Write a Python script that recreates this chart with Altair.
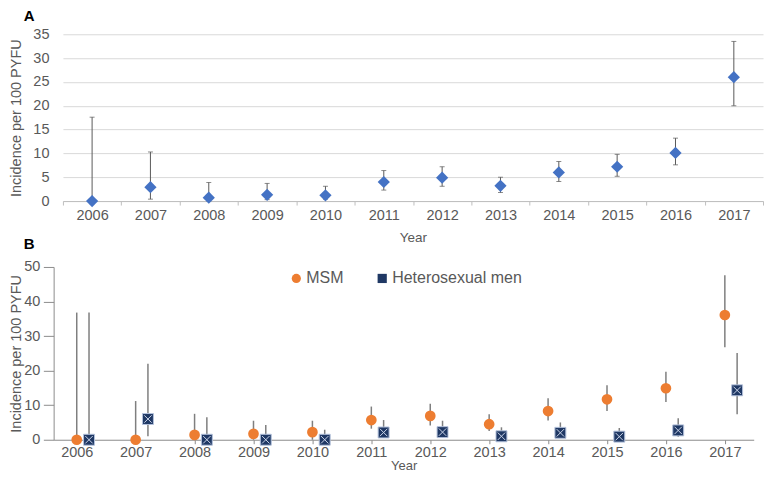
import altair as alt
import pandas as pd

years = list(range(2006, 2018))

# Panel A: all men, incidence per 100 PYFU with 95% CI
a_rate = [0.0, 2.9, 0.7, 1.3, 1.2, 4.0, 4.9, 3.2, 6.0, 7.2, 10.1, 26.0]
a_lo = [0.0, 0.4, 0.0, 0.3, 0.4, 2.3, 3.1, 1.8, 4.1, 5.2, 7.6, 20.0]
a_hi = [17.6, 10.3, 3.9, 3.7, 3.1, 6.4, 7.2, 5.0, 8.3, 9.8, 13.2, 33.5]

# Panel B: MSM vs heterosexual men
groups = ["MSM", "Heterosexual men"]
msm_rate = [0.0, 0.0, 1.4, 1.7, 2.2, 5.7, 6.9, 4.5, 8.3, 11.7, 14.9, 36.1]
msm_lo = [0.0, 0.0, 0.0, 0.0, 0.0, 3.2, 4.1, 2.5, 5.6, 8.3, 10.9, 26.8]
msm_hi = [36.8, 11.2, 7.5, 5.5, 5.5, 9.6, 10.4, 7.4, 12.0, 15.8, 19.7, 47.6]
het_rate = [0.0, 6.0, 0.0, 0.0, 0.0, 2.1, 2.2, 1.0, 2.0, 0.9, 2.7, 14.3]
het_lo = [0.0, 1.0, 0.0, 0.0, 0.0, 0.5, 0.5, 0.0, 0.5, 0.0, 0.9, 7.4]
het_hi = [36.8, 22.0, 6.5, 4.3, 2.9, 5.7, 5.5, 3.6, 5.0, 3.4, 6.2, 25.1]

TXT = "#595959"
FONT = "Liberation Sans"
YTITLE = "Incidence per 100 PYFU"

# ---------------- Panel A ----------------
dfa = pd.DataFrame({"year": [str(y) for y in years], "rate": a_rate, "lo": a_lo, "hi": a_hi})

xa = alt.X(
    "year:O",
    title="Year",
    scale=alt.Scale(paddingInner=0, paddingOuter=0),
    axis=alt.Axis(
        labelAngle=0, tickBand="extent", tickSize=4, labelPadding=3, titlePadding=9,
        domainColor="#BFBFBF", tickColor="#BFBFBF", grid=False,
        labelFontSize=14.5, titleFontSize=13.5, labelColor=TXT, titleColor=TXT,
        titleFontWeight="normal",
    ),
)
ya_scale = alt.Scale(domain=[0, 35], nice=False)
ya_axis = alt.Axis(
    values=[0, 5, 10, 15, 20, 25, 30, 35], domain=False, ticks=False, grid=True,
    gridColor="#D9D9D9", labelPadding=14, titlePadding=9.1,
    labelFontSize=14.5, titleFontSize=14.5, labelColor=TXT, titleColor=TXT,
    titleFontWeight="normal",
)


def ya(field):
    return alt.Y(field, title=YTITLE, scale=ya_scale, axis=ya_axis)


base_a = alt.Chart(dfa)
rule_a = base_a.mark_rule(color="#595959", strokeWidth=1).encode(x=xa, y=ya("lo:Q"), y2="hi:Q")
cap_hi = base_a.mark_tick(color="#595959", size=5, thickness=1).encode(x=xa, y=ya("hi:Q"))
cap_lo = base_a.mark_tick(color="#595959", size=5, thickness=1).encode(x=xa, y=ya("lo:Q"))
pts_a = base_a.mark_point(shape="diamond", filled=True, size=150, color="#4472C4", opacity=1).encode(
    x=xa, y=ya("rate:Q")
)

chart_a = alt.layer(rule_a, cap_hi, cap_lo, pts_a).properties(
    width=701,
    height=167,
    title=alt.TitleParams(
        "A", anchor="start", frame="bounds", dx=15, offset=2.75,
        fontSize=15, fontWeight="bold", font=FONT, color="black",
    ),
)

# ---------------- Panel B ----------------
dfb = pd.DataFrame({
    "year": years * 2,
    "group": [groups[0]] * 12 + [groups[1]] * 12,
    "rate": msm_rate + het_rate,
    "lo": msm_lo + het_lo,
    "hi": msm_hi + het_hi,
})

xb = alt.X(
    "year:Q",
    title="Year",
    scale=alt.Scale(domain=[2005.608, 2017.49], range=[-9.3, 691.7], nice=False, zero=False),
    axis=alt.Axis(
        values=years, format="d", grid=False, tickSize=4, labelPadding=2, titlePadding=0,
        domainColor="#8C8C8C", tickColor="#8C8C8C", labelFlush=False,
        labelFontSize=14.5, titleFontSize=13, labelColor=TXT, titleColor=TXT,
        titleFontWeight="normal",
    ),
)
yb_scale = alt.Scale(domain=[0, 50], nice=False)
yb_axis = alt.Axis(
    values=[0, 10, 20, 30, 40, 50], grid=False, tickSize=10.3, labelPadding=3.5,
    offset=9.3, titlePadding=0, domainColor="#8C8C8C", tickColor="#8C8C8C",
    labelFontSize=14.5, titleFontSize=14.5, labelColor=TXT, titleColor=TXT,
    titleFontWeight="normal",
)


def yb(field):
    return alt.Y(field, title=YTITLE, scale=yb_scale, axis=yb_axis)


cscale = alt.Scale(domain=groups, range=["#ED7D31", "#1F3864"])
sscale = alt.Scale(domain=groups, range=["circle", "square"])
leg = alt.Legend(
    title=None, orient="none", legendX=225.7, legendY=3.5, direction="horizontal",
    labelFontSize=16, labelColor=TXT, labelFont=FONT, symbolSize=85, labelOffset=2,
    columnPadding=30, symbolStrokeWidth=0,
)

base_b = alt.Chart(dfb)
msm = base_b.transform_filter(alt.datum.group == groups[0])
het = base_b.transform_filter(alt.datum.group == groups[1])
HET_OFF = 12.3

rule_msm = msm.mark_rule(color="#7F7F7F", strokeWidth=1.5).encode(
    x=xb, y=yb("lo:Q"), y2="hi:Q"
)
rule_het = het.mark_rule(color="#7F7F7F", strokeWidth=1.5).encode(
    x=xb, y=yb("lo:Q"), y2="hi:Q", xOffset=alt.value(HET_OFF),
)
pts_msm = msm.mark_point(filled=True, opacity=1, size=115).encode(
    x=xb, y=yb("rate:Q"),
    color=alt.Color("group:N", scale=cscale, legend=leg),
    shape=alt.Shape("group:N", scale=sscale, legend=leg),
)
pts_het = het.mark_point(filled=True, opacity=1, size=120, stroke="#B4C2DC", strokeWidth=1).encode(
    x=xb, y=yb("rate:Q"),
    color=alt.Color("group:N", scale=cscale, legend=leg),
    shape=alt.Shape("group:N", scale=sscale, legend=leg),
    xOffset=alt.value(HET_OFF),
)
cross_het = het.mark_point(
    shape="M-1,-1L1,1M-1,1L1,-1", filled=False, size=55, color="#C9D3E8",
    strokeWidth=1, opacity=1,
).encode(
    x=xb, y=yb("rate:Q"), xOffset=alt.value(HET_OFF),
)

chart_b = alt.layer(rule_msm, rule_het, pts_msm, pts_het, cross_het).properties(
    width=701,
    height=173,
    title=alt.TitleParams(
        "B", anchor="start", frame="bounds", dx=15, offset=7.25,
        fontSize=15, fontWeight="bold", font=FONT, color="black",
    ),
)

chart = (
    alt.concat(chart_a, chart_b, columns=1, spacing=-8)
    .resolve_scale(color="independent", shape="independent")
    .resolve_legend(color="independent", shape="independent")
    .configure(font=FONT, padding=0, background="white")
    .configure_view(stroke=None)
    .configure_axis(labelFont=FONT, titleFont=FONT)
)

chart.save("out.html", embed_options={"renderer": "svg", "actions": False})
